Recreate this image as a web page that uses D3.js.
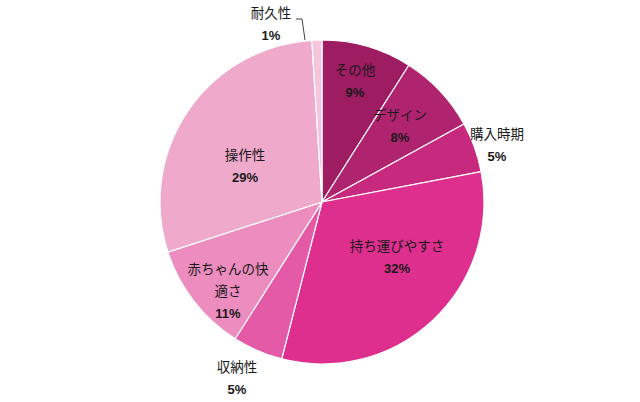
<!DOCTYPE html><html><head><meta charset="utf-8"><script src="https://cdn.jsdelivr.net/npm/d3@7"></script>
<style>body{margin:0;background:#fff}text{font-family:"Noto Sans CJK JP",sans-serif;fill:#1a1a1a}</style></head><body>
<svg id="c" width="640" height="402"></svg>
<script>
const categories=["その他","デザイン","購入時期","持ち運びやすさ","収納性","赤ちゃんの快適さ","操作性","耐久性"];
const values=[9,8,5,32,5,11,29,1];
const colors=["#9E1C62","#B0236F","#C7297E","#DE2F8F","#E55AA6","#EC8CBF","#EEA9CB","#F5C6DB"];
const labelLines=[["その他"],["デザイン"],["購入時期"],["持ち運びやすさ"],["収納性"],["赤ちゃんの快","適さ"],["操作性"],["耐久性"]];
const labelPos=[[355,70],[400,115],[497,134],[397,246],[237,367],[228,269],[245,155],[271,13]];
const svg=d3.select("#c"),cx=322,cy=202,r=162;
const pie=d3.pie().sort(null).value(d=>d)(values);
const arc=d3.arc().innerRadius(0).outerRadius(r);
const g=svg.append("g").attr("transform",`translate(${cx},${cy})`);
g.selectAll("path").data(pie).join("path").attr("d",arc).attr("fill",(d,i)=>colors[i]).attr("stroke","#fff").attr("stroke-width",1.2);
svg.append("path").attr("d","M296,19 L302,19 L305,40").attr("fill","none").attr("stroke","#444").attr("stroke-width",1);
labelPos.forEach((p,i)=>{
  const t=svg.append("text").attr("text-anchor","middle").attr("font-size",13.5);
  labelLines[i].forEach((l,j)=>t.append("tspan").attr("x",p[0]).attr("y",p[1]+j*22).attr("dy","0.35em").text(l));
  t.append("tspan").attr("x",p[0]).attr("y",p[1]+labelLines[i].length*22).attr("dy","0.35em").attr("font-weight","bold").attr("font-size",13).attr("font-family","Liberation Sans, sans-serif").text(values[i]+"%");
});
</script></body></html>
